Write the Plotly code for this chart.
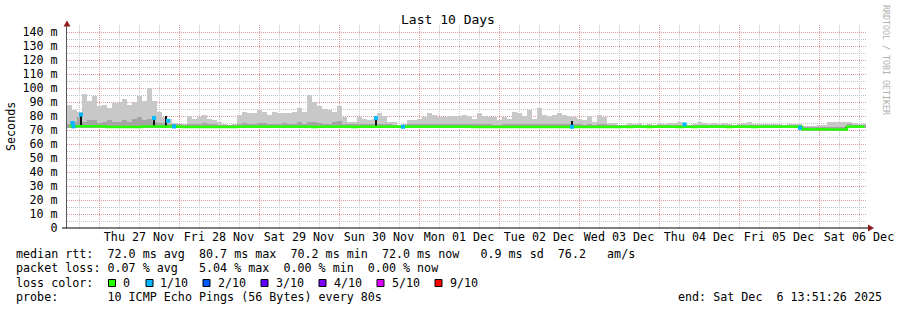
import numpy as np
import pandas as pd
import plotly.graph_objects as go

# ---------------- data ----------------
start = pd.Timestamp("2025-11-26 14:24")
end = pd.Timestamp("2025-12-06 14:06")
bucket_min = 90

smoke_top = [
    88, 84, 83, 96, 91, 94, 87, 88, 86, 89,
    90, 92, 88, 90, 94, 91, 100, 91, 83, 79,
    78, 75, 74, 74, 80, 78, 79, 81, 78, 77,
    76, 74, 73.5, 74, 81, 83, 82, 82, 84, 83,
    81, 83, 82, 82, 82, 83, 86, 83, 95, 90,
    87, 85, 84, 83, 87, 79, 76, 76, 79, 78,
    77, 78, 82, 80, 76, 76, 73.5, 74, 77, 77,
    78, 79, 82, 81, 79, 79, 80, 80, 80, 81,
    80, 78, 82, 80, 79, 79, 77, 79, 78, 83,
    82, 80, 84, 78, 86, 81, 80, 81, 82, 81,
    80, 79, 78, 77, 80, 76, 81, 79, 75, 75,
    73.5, 73.5, 75, 74, 75, 73.5, 74, 73.5, 75, 74.5,
    75, 75, 76, 75, 73.5, 74, 76, 75, 74.5, 75,
    74, 75, 74, 73.5, 74, 75, 75.5, 74.5, 74, 74.5,
    74, 74.5, 74, 73.5, 74, 74, 74.5, 73, 73, 73,
    73.5, 73.5, 76, 76, 76, 76, 76, 75, 74, 74,
]

smoke_inner = [
    74.0, 76.0, 79.0, 76.0, 77.0, 77.0, 75.0, 76.0, 77.0, 76.0,
    76.0, 77.0, 76.0, 78.0, 79.0, 77.0, 78.0, 76.0, 75.0, 75.0,
    74.5, 74.0, 74.0, 73.8, 74.5, 74.5, 74.5, 75.0, 74.0, 74.0,
    73.8, 73.8, 73.8, 73.8, 74.5, 75.0, 74.5, 74.5, 75.0, 75.0,
    74.5, 74.5, 74.5, 75.0, 74.5, 74.5, 75.5, 74.5, 76.0, 75.5,
    75.0, 74.5, 74.5, 75.5, 76.5, 74.5, 74.0, 74.0, 74.0, 74.0,
    74.0, 74.0, 74.5, 74.0, 74.0, 73.8, 73.8, 73.8, 74.0, 74.0,
    74.0, 74.0, 74.5, 74.0, 74.0, 74.0, 74.0, 74.0, 74.0, 74.0,
    74.0, 74.0, 74.0, 74.0, 74.0, 73.8, 73.8, 74.0, 74.0, 74.5,
    74.0, 74.0, 74.5, 74.0, 74.5, 74.0, 74.0, 74.0, 74.0, 74.0,
    74.0, 74.0, 74.0, 73.8, 74.0, 73.8, 74.0, 74.0, 73.8, 73.8,
    73.6, 73.6, 73.8, 73.6, 73.8, 73.6, 73.6, 73.6, 73.8, 73.6,
    73.8, 73.8, 73.8, 73.6, 73.6, 73.6, 73.8, 73.6, 73.6, 73.8,
    73.6, 73.8, 73.6, 73.6, 73.6, 73.8, 73.8, 73.6, 73.6, 73.6,
    73.6, 73.6, 73.6, 73.6, 73.6, 73.6, 73.6, 72.2, 72.2, 72.2,
    72.4, 72.4, 72.5, 72.5, 72.5, 72.5, 74.0, 73.8, 73.6, 73.6,
]

median = [
    72.6, 72.6, 72.6, 72.6, 72.6, 72.6, 72.6, 72.5, 72.2, 72.2,
    72.2, 72.2, 72.2, 72.1, 72.2, 72.5, 72.5, 72.5, 72.5, 72.4,
    72.5, 72.5, 72.4, 72.2, 72.2, 72.1, 72.2, 72.2, 72.2, 72.1,
    72.2, 72.2, 72.2, 72.2, 72.4, 72.4, 72.3, 72.4, 72.4, 72.4,
    72.4, 72.3, 72.4, 72.4, 72.4, 72.4, 72.4, 72.3, 72.3, 72.2,
    72.3, 72.3, 72.3, 72.3, 72.4, 72.3, 72.3, 72.2, 72.3, 72.3,
    72.3, 72.4, 72.4, 72.4, 72.3, 72.3, 72.3, 72.3, 72.4, 72.4,
    72.4, 72.4, 72.4, 72.4, 72.4, 72.4, 72.4, 72.4, 72.4, 72.4,
    72.4, 72.2, 72.2, 72.2, 72.2, 72.2, 72.1, 72.1, 72.2, 72.2,
    72.2, 72.1, 72.1, 72.2, 72.2, 72.2, 72.1, 72.2, 72.2, 72.2,
    72.2, 72.1, 72.2, 72.2, 72.2, 72.2, 72.2, 72.2, 72.2, 72.1,
    72.2, 72.3, 72.2, 72.3, 72.3, 72.3, 72.2, 72.3, 72.3, 72.3,
    72.3, 72.3, 72.2, 72.3, 72.3, 72.1, 72.3, 72.3, 72.3, 72.3,
    72.3, 72.3, 72.2, 72.3, 72.3, 72.3, 72.3, 72.2, 72.3, 72.3,
    72.3, 72.3, 72.3, 72.3, 72.3, 72.3, 72.3, 70.6, 70.6, 70.6,
    70.6, 70.6, 70.3, 70.3, 70.3, 70.3, 72.3, 72.3, 72.3, 72.3,
]

# median spikes (drawn as dark vertical strokes)
spike_times = ["2025-11-26 16:03", "2025-11-26 18:36", "2025-11-27 16:30",
               "2025-11-27 20:06", "2025-11-30 11:06", "2025-12-02 21:54",
               "2025-12-04 07:39", "2025-12-06 08:15"]
spike_low = [72.6, 72.6, 72.5, 72.5, 72.3, 73.5, 72.3, 70.3]
spike_high = [75.5, 81.5, 79.0, 80.0, 78.5, 76.5, 74.5, 72.3]

# median samples with 1/10 loss
loss1_times = ["2025-11-26 16:03", "2025-11-26 16:21", "2025-11-26 18:36",
               "2025-11-27 16:30", "2025-11-27 20:42", "2025-11-27 22:30",
               "2025-11-30 11:06", "2025-11-30 19:12", "2025-12-02 21:54",
               "2025-12-04 07:39", "2025-12-05 18:18"]
loss1_vals = [75.0, 72.6, 81.0, 78.5, 76.5, 72.5, 78.5, 72.3, 72.3, 74.0, 71.5]

y_ticks = [0, 10, 20, 30, 40, 50, 60, 70, 80, 90, 100, 110, 120, 130, 140]
y_ticktext = ["0", "10 m", "20 m", "30 m", "40 m", "50 m", "60 m", "70 m",
              "80 m", "90 m", "100 m", "110 m", "120 m", "130 m", "140 m"]

loss_labels = ["0", "1/10", "2/10", "3/10", "4/10", "5/10", "9/10"]
loss_colors = ["#26ff00", "#00b8ff", "#0059ff", "#5e00ff", "#7e00ff", "#dd00ff", "#ff0000"]

line_rtt = "median rtt:  72.0 ms avg  80.7 ms max  70.2 ms min  72.0 ms now   0.9 ms sd  76.2   am/s"
line_loss = "packet loss: 0.07 % avg   5.04 % max  0.00 % min  0.00 % now"
line_probe = "probe:       10 ICMP Echo Pings (56 Bytes) every 80s"
line_end = "end: Sat Dec  6 13:51:26 2025"

# ---------------- figure ----------------
FONT = "DejaVu Sans Mono"
FS = 11.7
W, H = 897, 310
L, R, T, B = 67, 866, 25, 228

def px2x(px):
    return (px - L) / (R - L)

def py2y(py):
    return (B - py) / (B - T)

n = len(smoke_top)
t = start + pd.to_timedelta(np.arange(n) * bucket_min + bucket_min / 2, unit="min")
width_ms = bucket_min * 60 * 1000
med = np.array(median)
base = med - 1.0

fig = go.Figure()
fig.add_trace(go.Bar(x=t, y=np.array(smoke_top) - base, base=base, width=width_ms,
                     marker=dict(color="#c8c8c8", line=dict(width=0)), hoverinfo="skip"))
fig.add_trace(go.Bar(x=t, y=np.array(smoke_inner) - base, base=base, width=width_ms,
                     marker=dict(color="#a4a4a4", line=dict(width=0)), hoverinfo="skip"))

sx, sy = [], []
for tt, lo, hi in zip(spike_times, spike_low, spike_high):
    sx += [tt, tt, None]
    sy += [lo, hi, None]
fig.add_trace(go.Scatter(x=sx, y=sy, mode="lines", line=dict(color="#111111", width=2),
                         hoverinfo="skip"))

fig.add_trace(go.Scatter(x=t, y=med, mode="lines", line=dict(color=loss_colors[0], width=2.5,
                         shape="hvh"), hoverinfo="skip"))

fig.add_trace(go.Scatter(x=pd.to_datetime(loss1_times), y=loss1_vals, mode="markers",
                         marker=dict(symbol="square", size=4, color=loss_colors[1],
                                     line=dict(width=0)), hoverinfo="skip"))

grid_major = "#e09a9a"
grid_minor = "#c4c4c4"

fig.update_layout(
    width=W, height=H, autosize=False,
    margin=dict(l=L, r=W - R, t=T, b=H - B, pad=0, autoexpand=False),
    paper_bgcolor="white", plot_bgcolor="white",
    showlegend=False, barmode="overlay", bargap=0,
    font=dict(family=FONT, size=FS, color="#000"),
    title=dict(text="Last 10 Days", x=448 / W, xref="container", xanchor="center",
               y=1 - 19 / H, yref="container", yanchor="middle", automargin=False,
               font=dict(family=FONT, size=13, color="#000")),
    xaxis=dict(type="date", range=[start, end], automargin=False,
               tick0="2025-11-27", dtick=86400000, ticklabelmode="period",
               tickformat="%a %d %b", ticks="", showline=False, zeroline=False,
               showgrid=True, gridcolor=grid_major, gridwidth=1, griddash="1px,1px",
               minor=dict(dtick=21600000, tick0="2025-11-27", showgrid=True,
                          gridcolor=grid_minor, gridwidth=1, griddash="1px,1px"),
               tickfont=dict(family=FONT, size=FS, color="#000")),
    yaxis=dict(range=[0, 145], tickmode="array", tickvals=y_ticks, ticktext=y_ticktext,
               automargin=False,
               ticks="", showline=True, linecolor="#555555", linewidth=1, zeroline=False,
               showgrid=True, gridcolor=grid_major, gridwidth=1, griddash="1px,1px",
               minor=dict(tickmode="linear", tick0=0, dtick=5, showgrid=True,
                          gridcolor=grid_minor, gridwidth=1, griddash="1px,1px"),
               ticklabelstandoff=6,
               tickfont=dict(family=FONT, size=FS, color="#000")),
)

shapes = []
# x axis line
shapes.append(dict(type="line", xref="paper", yref="paper", x0=px2x(62), x1=px2x(869),
                   y0=0, y1=0, line=dict(color="#000", width=1)))
# arrows
shapes.append(dict(type="path", xref="paper", yref="paper",
                   path=f"M {px2x(67)},{py2y(20.5)} L {px2x(63.5)},{py2y(26.5)} L {px2x(70.5)},{py2y(26.5)} Z",
                   fillcolor="#8b1c1c", line=dict(width=0)))
shapes.append(dict(type="path", xref="paper", yref="paper",
                   path=f"M {px2x(874)},{py2y(228)} L {px2x(868)},{py2y(224.5)} L {px2x(868)},{py2y(231.5)} Z",
                   fillcolor="#8b1c1c", line=dict(width=0)))

annotations = []
def text_at(px, py, s, size=FS, color="#000", anchor="left", angle=0):
    annotations.append(dict(xref="paper", yref="paper", x=px2x(px), y=py2y(py),
                            text=s.replace(" ", "\u00a0"), showarrow=False,
                            xanchor=anchor, yanchor="middle", textangle=angle,
                            borderpad=0,
                            font=dict(family=FONT, size=size, color=color)))

text_at(15, 254, line_rtt)
text_at(15, 268, line_loss)
text_at(15, 282.5, "loss color:")
text_at(15, 297, line_probe)
text_at(677, 297, line_end)

box_x = [108.5, 146, 203, 261, 319, 377, 435]
text_x = [121.5, 158.5, 216.5, 274.5, 332.5, 390.5, 448.5]
for bx, tx, lab, col in zip(box_x, text_x, loss_labels, loss_colors):
    shapes.append(dict(type="rect", xref="paper", yref="paper",
                       x0=px2x(bx), x1=px2x(bx + 7), y0=py2y(286.5), y1=py2y(279.5),
                       fillcolor=col, line=dict(color="#000", width=1)))
    text_at(tx, 282.5, lab)

# y-axis title
annotations.append(dict(xref="paper", yref="paper", x=px2x(11), y=py2y(127),
                        text="Seconds", showarrow=False, textangle=-90,
                        xanchor="center", yanchor="middle",
                        font=dict(family=FONT, size=FS, color="#000")))
# watermark
annotations.append(dict(xref="paper", yref="paper", x=px2x(886), y=py2y(60),
                        text="RRDTOOL / TOBI OETIKER", showarrow=False, textangle=90,
                        xanchor="center", yanchor="middle",
                        font=dict(family=FONT, size=8.3, color="#b0b0b0")))

fig.update_layout(shapes=shapes, annotations=annotations)
fig.write_html("out.html")
